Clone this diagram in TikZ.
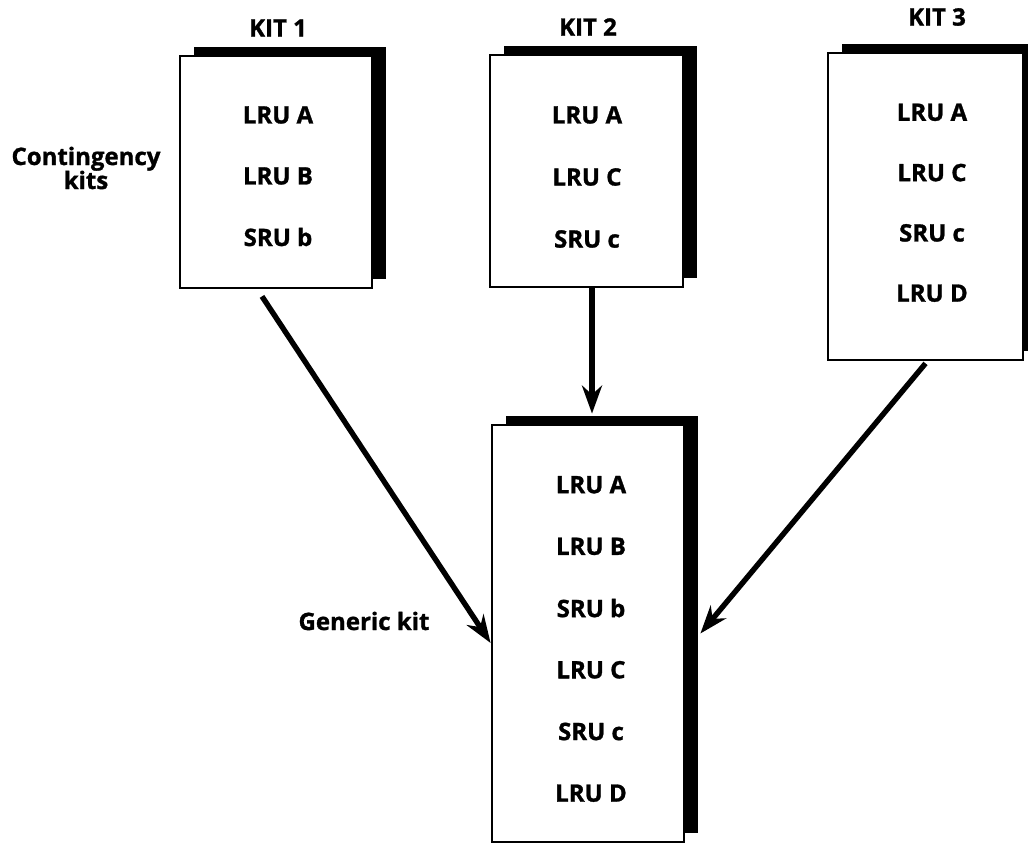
\documentclass[tikz,border=0pt]{standalone}
\usepackage{fontspec}
\setmainfont{Open Sans}[BoldFeatures={FakeBold=1.2}]
\usetikzlibrary{arrows.meta,shadows}
\tikzset{
  kitbox/.style={draw=black, line width=2.8pt, fill=white, rectangle, inner sep=0pt,
    general shadow={fill=black, shadow xshift=14pt, shadow yshift=9pt}},
  item/.style={font=\fontsize{24}{24}\selectfont\bfseries, inner sep=0pt},
  caption/.style={font=\fontsize{24}{24}\selectfont\bfseries, inner sep=0pt, align=center},
  flow/.style={line width=5.4pt, -{Stealth[length=28pt, width=20pt, inset=9pt]}}
}
\begin{document}
\begin{tikzpicture}[x=1pt, y=-1pt]
\useasboundingbox (0,0) rectangle (1028,846);

% contingency kits
\node[kitbox, minimum width=192pt, minimum height=232pt] (k1) at (276,172) {};
\node[kitbox, minimum width=193pt, minimum height=232pt] (k2) at (586.5,171) {};
\node[kitbox, minimum width=195pt, minimum height=307pt] (k3) at (925.5,206.5) {};
% generic kit
\node[kitbox, minimum width=192pt, minimum height=417pt] (gen) at (588,633.5) {};

% kit titles and side captions
\node[caption] (t1) at (278,28) {KIT 1};
\node[caption] (t2) at (588,27) {KIT 2};
\node[caption] (t3) at (937,17) {KIT 3};
\node[caption] (ck) at (86,168) {Contingency\\kits};
\node[caption] (gk) at (364,621) {Generic kit};

% contents of each kit
\foreach \t [count=\i] in {LRU A, LRU B, SRU b}
  \node[item] (a\i) at (278, 54+61*\i) {\t};
\foreach \t [count=\i] in {LRU A, LRU C, SRU c}
  \node[item] (b\i) at (587, 53+62*\i) {\t};
\foreach \t [count=\i] in {LRU A, LRU C, SRU c, LRU D}
  \node[item] (c\i) at (932, 52+60.3*\i) {\t};
\foreach \t [count=\i] in {LRU A, LRU B, SRU b, LRU C, SRU c, LRU D}
  \node[item] (g\i) at (591, 423+61.7*\i) {\t};

% merging arrows
\draw[flow] ([xshift=-14pt, yshift=-7pt]k1.south) -- ([yshift=-9.5pt]gen.west);
\draw[flow] ([xshift=5.5pt]k2.south) -- ([xshift=4pt, yshift=10pt]gen.north);
\draw[flow] ([yshift=-2pt]k3.south) -- ([xshift=15pt]gen.east);
\end{tikzpicture}
\end{document}
